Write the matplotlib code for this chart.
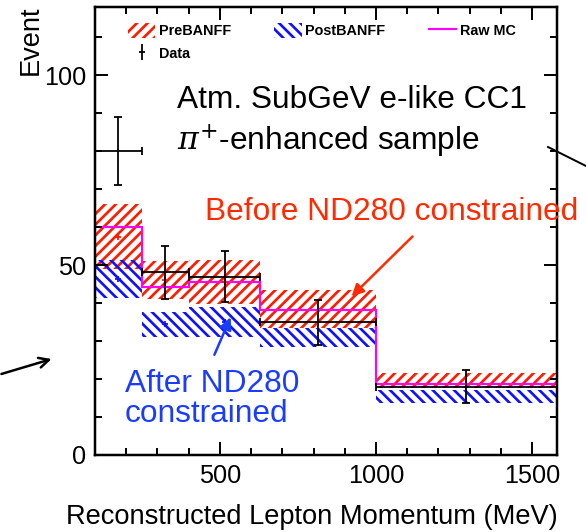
import matplotlib
matplotlib.use("Agg")
import matplotlib.pyplot as plt
from matplotlib.patches import Patch, FancyArrowPatch
from matplotlib.lines import Line2D
from matplotlib.legend_handler import HandlerTuple
from matplotlib.ticker import MultipleLocator
import numpy as np

# ── data ─────────────────────────────────────────────────────────────────────
bin_edges = [100, 250, 400, 630, 1000, 1580]
raw_mc = [60.0, 44.2, 45.5, 38.3, 18.7]
pre_val = [57.5, 46.0, 45.5, 38.5, 19.6]
pre_err = [8.5, 5.0, 5.8, 5.0, 1.9]
post_val = [46.4, 34.4, 35.1, 31.0, 15.4]
post_err = [5.0, 3.2, 3.9, 2.5, 1.7]
data_x = [175, 325, 515, 815, 1290]
data_y = [80.0, 48.1, 47.0, 34.9, 18.0]
data_err = [9.0, 7.0, 6.8, 6.0, 4.3]

# ── style ─────────────────────────────────────────────────────────────────────
DPI = 128
W, H = 586, 532
plt.rcParams["font.family"] = ["Liberation Sans", "DejaVu Sans"]
plt.rcParams["hatch.linewidth"] = 1.5
plt.rcParams["mathtext.fontset"] = "dejavuserif"

C_PRE = "#ff1a00"
C_POST = "#1010ff"
C_RAW = "#ff00ff"
HATCH_PRE = "////"
HATCH_POST = "\\\\\\\\"

fig = plt.figure(figsize=(W / DPI, H / DPI), dpi=DPI)
ax = fig.add_axes([95 / W, 1 - 455 / H, 462 / W, 448 / H])

edges = np.array(bin_edges)
lo, hi = edges[:-1], edges[1:]

# uncertainty bands (hatched)
for i in range(len(lo)):
    xs = [lo[i], hi[i]]
    ax.fill_between(xs, pre_val[i] - pre_err[i], pre_val[i] + pre_err[i],
                    facecolor="none", edgecolor=C_PRE, hatch=HATCH_PRE, linewidth=0)
    ax.fill_between(xs, post_val[i] - post_err[i], post_val[i] + post_err[i],
                    facecolor="none", edgecolor=C_POST, hatch=HATCH_POST, linewidth=0)

# small central markers of the bands
centers = (lo + hi) / 2
ax.plot(centers[:3], pre_val[:3], ls="none", marker="+", ms=3, color=C_PRE, mew=1)
ax.plot(centers[:3], post_val[:3], ls="none", marker="+", ms=3, color=C_POST, mew=1)

# raw MC step line
ax.stairs(raw_mc, edges, color=C_RAW, linewidth=1.2, baseline=None)

# data
xerr = [np.array(data_x) - lo, hi - np.array(data_x)]
ax.errorbar(data_x, data_y, yerr=data_err, xerr=xerr, fmt="none",
            ecolor="black", elinewidth=1.0, capsize=2.5, capthick=1.0)

ax.set_xlim(100, 1580)
ax.set_ylim(0, 118)
ax.xaxis.set_major_locator(MultipleLocator(500))
ax.xaxis.set_minor_locator(MultipleLocator(100))
ax.yaxis.set_major_locator(MultipleLocator(50))
ax.yaxis.set_minor_locator(MultipleLocator(10))
ax.tick_params(which="both", direction="in", top=True, right=True,
               width=1.1, labelsize=14.2, pad=5)
ax.tick_params(which="major", length=7.3)
ax.tick_params(which="minor", length=4)
for s in ax.spines.values():
    s.set_linewidth(1.4)

# ── legend ───────────────────────────────────────────────────────────────────
h_pre = Patch(facecolor="none", edgecolor=C_PRE, hatch=HATCH_PRE, linewidth=0)
h_post = Patch(facecolor="none", edgecolor=C_POST, hatch=HATCH_POST, linewidth=0)
h_raw = Line2D([], [], color=C_RAW, linewidth=1.2)
h_data = (Line2D([], [], ls="none", marker="|", ms=9, mew=1.0, color="black"),
          Line2D([], [], ls="none", marker="_", ms=3, mew=1.0, color="black"))
leg = ax.legend([h_pre, h_data, h_post, h_raw],
                ["PreBANFF", "Data", "PostBANFF", "Raw MC"],
                ncol=3, frameon=False, loc="upper left",
                bbox_to_anchor=(128 / W, 1 - 23 / H), bbox_transform=fig.transFigure,
                borderpad=0, borderaxespad=0, handlelength=1.9, handleheight=1.2,
                handletextpad=0.25, columnspacing=3.0, labelspacing=0.55,
                prop=dict(weight="bold", size=8.1),
                handler_map={tuple: HandlerTuple(ndivide=1)})

# ── texts ────────────────────────────────────────────────────────────────────
ax.text(177 / W, 1 - 100 / H, "Atm. SubGeV e-like CC1", transform=fig.transFigure,
        fontsize=17.8, ha="left", va="center")
ax.text(177 / W, 1 - 141 / H, r"$\pi^{+}$-enhanced sample", transform=fig.transFigure,
        fontsize=17.8, ha="left", va="center")
ax.text(578 / W, 1 - 212 / H, "Before ND280 constrained", transform=fig.transFigure,
        fontsize=17.8, ha="right", va="center", color="#ff2a00")
ax.text(125 / W, 1 - 399 / H, "After ND280\nconstrained", transform=fig.transFigure,
        fontsize=17.8, ha="left", va="center", color="#1a3cff", linespacing=1.0)

def fig_arrow(x0, y0, x1, y1, color, style):
    fig.add_artist(FancyArrowPatch((x0 / W, 1 - y0 / H), (x1 / W, 1 - y1 / H),
                                   transform=fig.transFigure, arrowstyle=style,
                                   mutation_scale=14, color=color, linewidth=1.4))

fig_arrow(415, 234, 349, 299, "#ff2a00", "-|>")
fig_arrow(213, 358, 232, 314, "#1a3cff", "-|>")
fig_arrow(-2, 375, 55, 358, "black", "->")
fig.add_artist(Line2D([548 / W, 590 / W], [1 - 147 / H, 1 - 168 / H],
                      transform=fig.transFigure, color="black", linewidth=1.1))

# axis titles
fig.text(312 / W, 1 - 517 / H, "Reconstructed Lepton Momentum (MeV)",
         fontsize=15.3, ha="center", va="center")
fig.text(31 / W, 1 - 40 / H, "Event", rotation=90, fontsize=15.3,
         ha="center", va="center")

fig.savefig("out.png", dpi=DPI)
